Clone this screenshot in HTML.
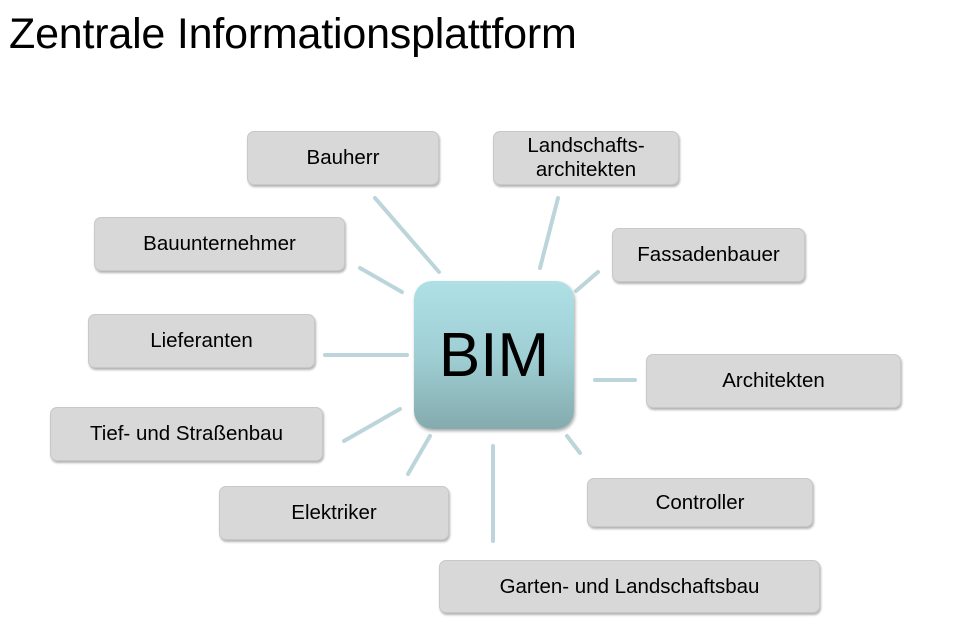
<!DOCTYPE html>
<html><head><meta charset="utf-8"><style>
body{margin:0;width:958px;height:639px;background:#fff;position:relative;overflow:hidden;font-family:"Liberation Sans",Arial,sans-serif}
h1{position:absolute;left:9px;top:10px;margin:0;font-weight:normal;font-size:43px;color:#000;letter-spacing:-0.2px}
.b{position:absolute;box-sizing:border-box;background:#d8d8d8;border:1px solid #c8c8c8;border-radius:7px;box-shadow:1px 2px 2px rgba(0,0,0,.3);display:flex;align-items:center;justify-content:center;text-align:center;font-size:20.5px;line-height:24px;color:#000}
#bim{position:absolute;left:414px;top:281px;width:160px;height:148px;border-radius:18px;background:linear-gradient(#afe0e5,#9fcfd4 50%,#84abae);box-shadow:1px 2px 3px rgba(0,0,0,.35);display:flex;align-items:center;justify-content:center;font-size:62px}
svg{position:absolute;left:0;top:0}
</style></head><body>
<h1>Zentrale Informationsplattform</h1>
<svg width="958" height="639"><g stroke="#bcd5da" stroke-width="4" stroke-linecap="round">
<line x1="375" y1="198" x2="439" y2="272"/><line x1="558" y1="198" x2="540" y2="268"/><line x1="598" y1="272" x2="576" y2="291"/><line x1="360" y1="268" x2="402" y2="292"/><line x1="325" y1="355" x2="407" y2="355"/><line x1="595" y1="380" x2="635" y2="380"/><line x1="344" y1="441" x2="400" y2="409"/><line x1="408" y1="474" x2="430" y2="436"/><line x1="493" y1="446" x2="493" y2="541"/><line x1="567" y1="436" x2="580" y2="453"/>
</g></svg>
<div id="bim">BIM</div>
<div class="b" style="left:247px;top:131px;width:192px;height:54px">Bauherr</div>
<div class="b" style="left:493px;top:131px;width:186px;height:54px">Landschafts-<br>architekten</div>
<div class="b" style="left:612px;top:228px;width:193px;height:54px">Fassadenbauer</div>
<div class="b" style="left:94px;top:217px;width:251px;height:54px">Bauunternehmer</div>
<div class="b" style="left:88px;top:314px;width:227px;height:54px">Lieferanten</div>
<div class="b" style="left:646px;top:354px;width:255px;height:54px">Architekten</div>
<div class="b" style="left:50px;top:407px;width:273px;height:54px">Tief- und Straßenbau</div>
<div class="b" style="left:587px;top:478px;width:226px;height:49px">Controller</div>
<div class="b" style="left:219px;top:486px;width:230px;height:54px">Elektriker</div>
<div class="b" style="left:439px;top:560px;width:381px;height:53px">Garten- und Landschaftsbau</div>
</body></html>
